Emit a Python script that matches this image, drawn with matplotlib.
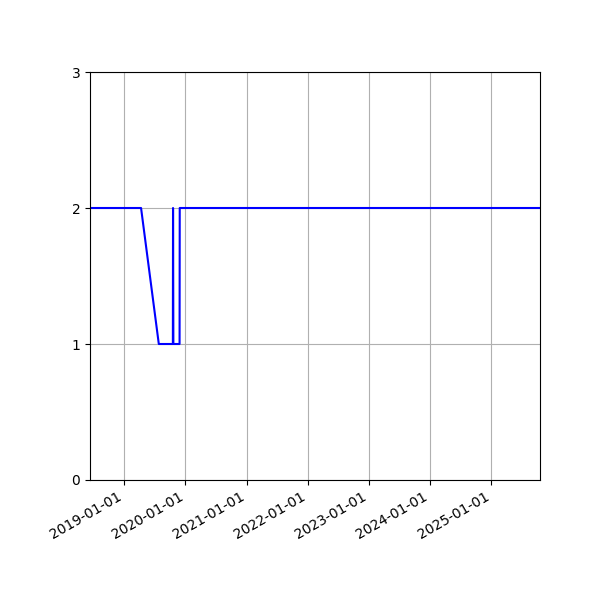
import matplotlib
matplotlib.use("Agg")
import matplotlib.pyplot as plt
import matplotlib.dates as mdates
import numpy as np

# Series
dates = np.array([
    "2018-06-10", "2019-04-11", "2019-07-26", "2019-10-18", "2019-10-19",
    "2019-10-21", "2019-11-27", "2019-11-28", "2025-10-19",
], dtype="datetime64[D]")
values = [2, 2, 1, 1, 2, 1, 1, 2, 2]

fig, ax = plt.subplots(figsize=(6, 6), dpi=100)
ax.plot(dates, values, color="blue")

ax.set_xlim(dates[0], dates[-1])
ax.set_ylim(0, 3)
ax.set_yticks([0, 1, 2, 3])
ax.xaxis.set_major_locator(mdates.YearLocator())
ax.xaxis.set_major_formatter(mdates.DateFormatter("%Y-%m-%d"))
ax.grid(True)

fig.autofmt_xdate()
fig.subplots_adjust(left=0.15, right=0.9, top=0.88, bottom=0.2)

plt.savefig("out.png")
